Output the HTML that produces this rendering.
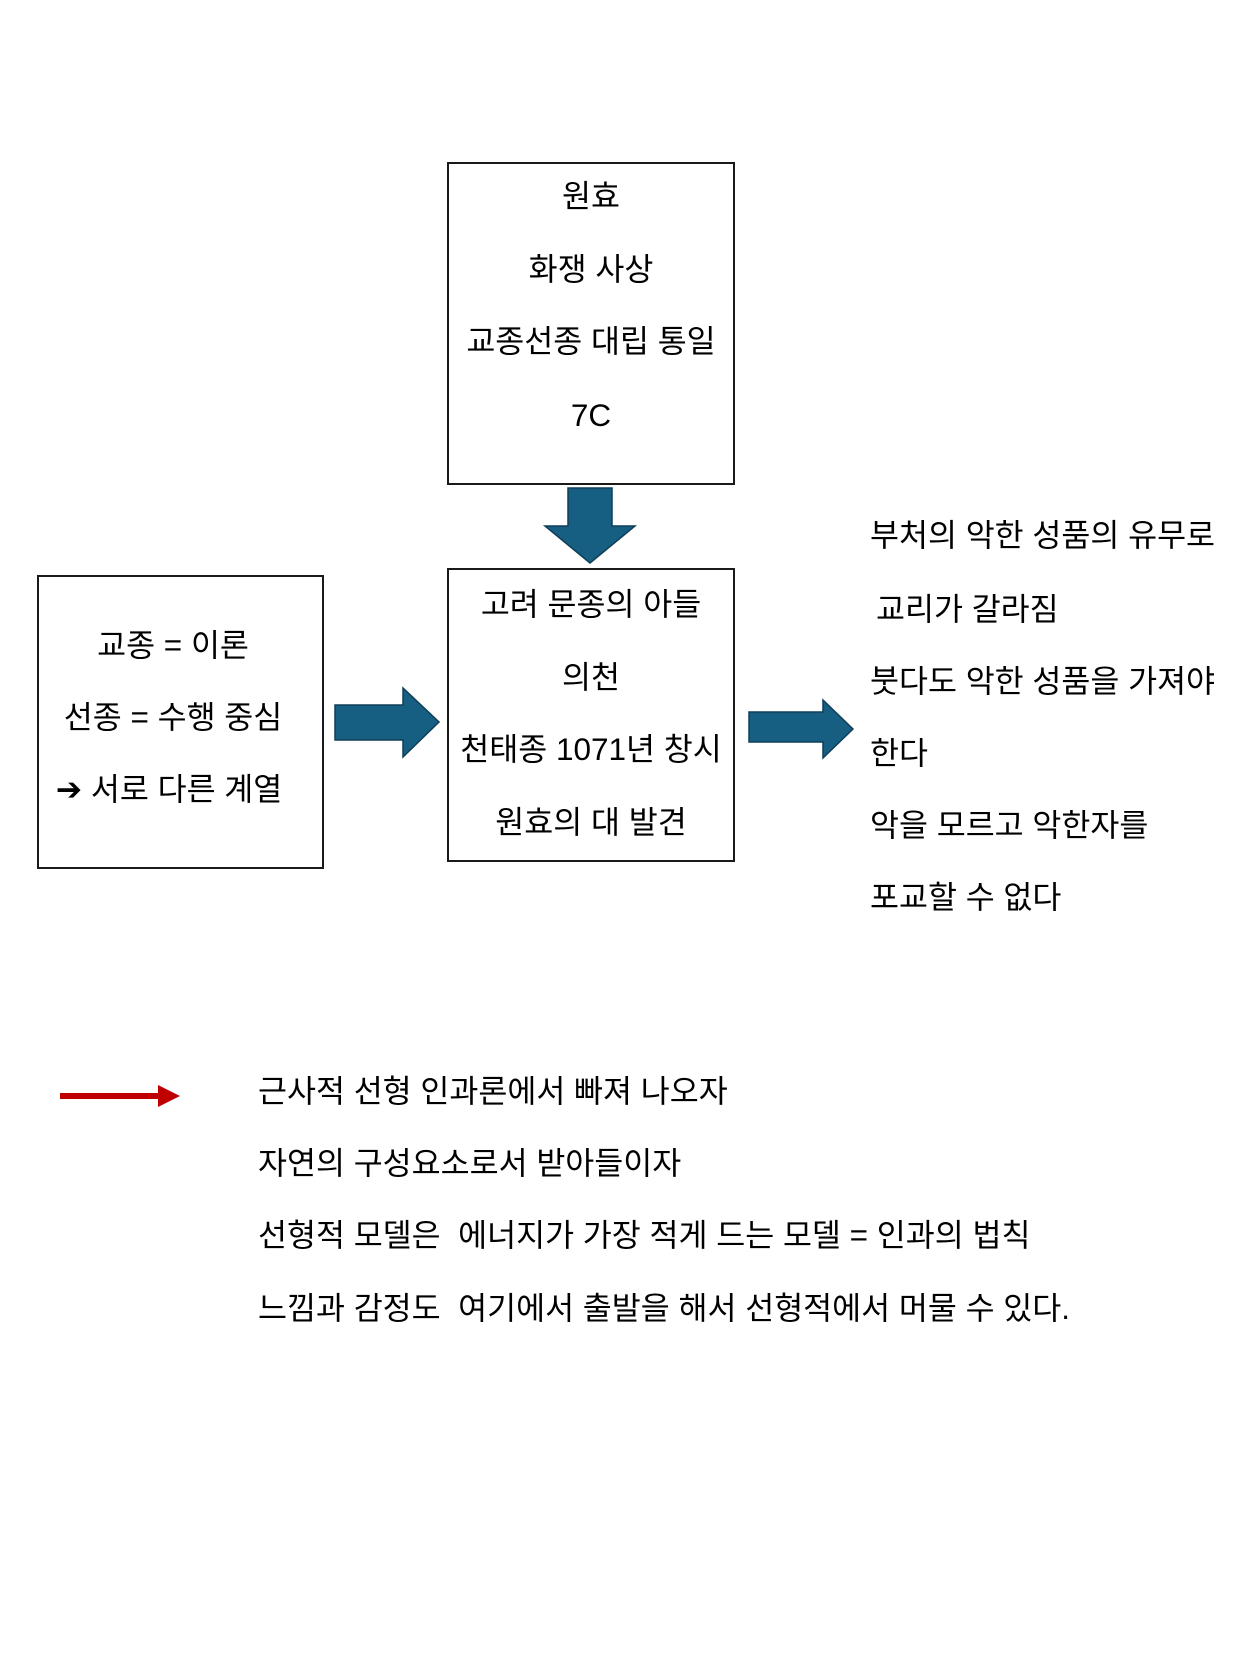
<!DOCTYPE html>
<html><head><meta charset="utf-8"><style>
html,body{margin:0;padding:0;background:#fff;}
body{width:1260px;height:1680px;position:relative;overflow:hidden;font-family:"Liberation Sans","Noto Sans CJK KR",sans-serif;font-size:31.5px;color:#000;}
.t{position:absolute;white-space:nowrap;line-height:1;}
.c{transform:translateX(-50%);}
</style></head><body>
<svg width="1260" height="1680" style="position:absolute;left:0;top:0">
<rect x="448" y="163" width="286" height="321" fill="none" stroke="#1a1a1a" stroke-width="2"/>
<rect x="448" y="569" width="286" height="292" fill="none" stroke="#1a1a1a" stroke-width="2"/>
<rect x="38" y="576" width="285" height="292" fill="none" stroke="#1a1a1a" stroke-width="2"/>
<polygon points="568,488 612,488 612,526 635,526 590,563 545,526 568,526" fill="#175f82" stroke="#0f3f58" stroke-width="1.5"/>
<polygon points="335,705 403,705 403,688 439,722 403,757 403,740 335,740" fill="#175f82" stroke="#0f3f58" stroke-width="1.5"/>
<polygon points="749,712 823,712 823,700 853,729 823,758 823,742 749,742" fill="#175f82" stroke="#0f3f58" stroke-width="1.5"/>
<line x1="60" y1="1096" x2="160" y2="1096" stroke="#c00000" stroke-width="6"/>
<polygon points="158,1085 180,1096 158,1107" fill="#c00000"/>
</svg>
<div class="t c" style="left:591px;top:181px">원효</div>
<div class="t c" style="left:591px;top:254px">화쟁 사상</div>
<div class="t c" style="left:591px;top:326px">교종선종 대립 통일</div>
<div class="t c" style="left:591px;top:400px">7C</div>
<div class="t c" style="left:591px;top:589px">고려 문종의 아들</div>
<div class="t c" style="left:591px;top:662px">의천</div>
<div class="t c" style="left:591px;top:734px">천태종 1071년 창시</div>
<div class="t c" style="left:591px;top:807px">원효의 대 발견</div>
<div class="t c" style="left:173px;top:630px">교종 = 이론</div>
<div class="t c" style="left:173px;top:702px">선종 = 수행 중심</div>
<div class="t c" style="left:169px;top:774px">➔ 서로 다른 계열</div>
<div class="t" style="left:870px;top:520px">부처의 악한 성품의 유무로</div>
<div class="t" style="left:876px;top:594px">교리가 갈라짐</div>
<div class="t" style="left:870px;top:666px">붓다도 악한 성품을 가져야</div>
<div class="t" style="left:870px;top:738px">한다</div>
<div class="t" style="left:870px;top:810px">악을 모르고 악한자를</div>
<div class="t" style="left:870px;top:882px">포교할 수 없다</div>
<div class="t" style="left:258px;top:1076px">근사적 선형 인과론에서 빠져 나오자</div>
<div class="t" style="left:258px;top:1148px">자연의 구성요소로서 받아들이자</div>
<div class="t" style="left:258px;top:1220px">선형적 모델은&nbsp; 에너지가 가장 적게 드는 모델 = 인과의 법칙</div>
<div class="t" style="left:258px;top:1293px">느낌과 감정도&nbsp; 여기에서 출발을 해서 선형적에서 머물 수 있다.</div>
</body></html>
